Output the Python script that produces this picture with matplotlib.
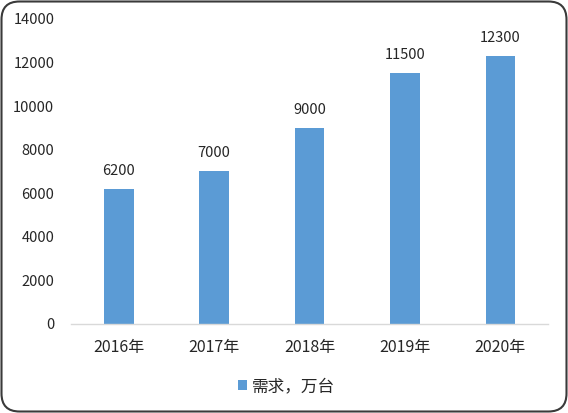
#demand bar chart
import matplotlib
matplotlib.use("Agg")
import matplotlib.pyplot as plt
from matplotlib.patches import FancyBboxPatch
from matplotlib.transforms import IdentityTransform

years = ["2016年", "2017年", "2018年", "2019年", "2020年"]
demand = [6200, 7000, 9000, 11500, 12300]
yticks = [0, 2000, 4000, 6000, 8000, 10000, 12000, 14000]
series_name = "需求，万台"

plt.rcParams['font.family'] = ['Noto Sans CJK SC', 'DejaVu Sans']

fig = plt.figure(figsize=(5.68, 4.13), dpi=100)
ax = fig.add_axes([0.125, 0.2155, 0.84, 0.7385])

x = range(len(years))
bars = ax.bar(x, demand, width=0.31, color="#5B9BD5", label=series_name)
for xi, v in zip(x, demand):
    ax.annotate(str(v), (xi, v), xytext=(0, 8), textcoords="offset points",
                ha="center", va="bottom", fontsize=10.5, color="#262626")

ax.set_xlim(-0.5, len(years) - 0.5)
ax.set_ylim(0, 14000)
ax.set_yticks(yticks)
ax.set_yticklabels([str(t) for t in yticks])
ax.set_xticks(list(x))
ax.set_xticklabels(years)
ax.tick_params(axis="y", length=0, pad=12, labelsize=10.5, labelcolor="#262626")
ax.tick_params(axis="x", length=0, pad=11, labelsize=11.5, labelcolor="#262626")
for s in ["top", "right", "left"]:
    ax.spines[s].set_visible(False)
ax.spines["bottom"].set_color("#D9D9D9")
ax.spines["bottom"].set_linewidth(1.0)

fig.legend(handles=[bars], labels=[series_name], loc="center",
           bbox_to_anchor=(0.504, 0.064), frameon=False, fontsize=12,
           handlelength=0.55, handleheight=0.55, handletextpad=0.3,
           labelcolor="#262626")

# rounded outer border
border = FancyBboxPatch((1.5, 1.5), 565, 410,
                        boxstyle="round,pad=0,rounding_size=18",
                        transform=IdentityTransform(), fill=False,
                        edgecolor="#3A3A3A", linewidth=1.5)
fig.add_artist(border)

fig.savefig("out.png", dpi=100)
